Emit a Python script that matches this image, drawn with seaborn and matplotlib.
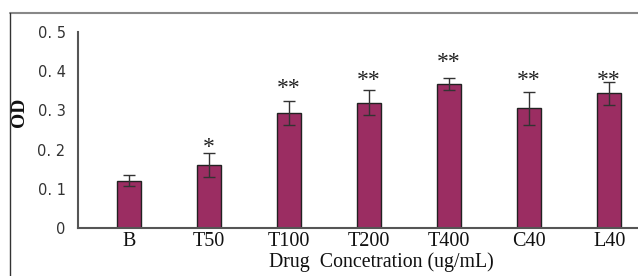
import matplotlib
matplotlib.use("Agg")
import matplotlib.pyplot as plt
from matplotlib.lines import Line2D
import seaborn as sns
import pandas as pd

categories = ["B", "T50", "T100", "T200", "T400", "C40", "L40"]
od_values = [0.120, 0.161, 0.293, 0.320, 0.368, 0.305, 0.344]
od_errors = [0.014, 0.030, 0.031, 0.033, 0.015, 0.041, 0.029]
star_labels = ["", "*", "**", "**", "**", "**", "**"]
star_y = [0.0, 0.219, 0.370, 0.390, 0.436, 0.390, 0.390]
ytick_values = [0, 0.1, 0.2, 0.3, 0.4, 0.5]
ytick_labels = ["0", "0. 1", "0. 2", "0. 3", "0. 4", "0. 5"]

df = pd.DataFrame({"group": categories, "od": od_values})

sns.set_style("white")
plt.rcParams["font.family"] = ["Liberation Serif", "DejaVu Serif"]

fig = plt.figure(figsize=(6.38, 2.76), dpi=100)
ax = fig.add_axes([78 / 638, 48 / 276, 560 / 638, 196 / 276])

bar_color = "#9B2D62"
sns.barplot(data=df, x="group", y="od", order=categories, color=bar_color,
            width=0.3, edgecolor="#222222", linewidth=1.0, errorbar=None,
            saturation=1, ax=ax)
ax.errorbar(range(len(categories)), od_values, yerr=od_errors, fmt="none",
            ecolor="#333333", elinewidth=1.0, capsize=4.3, capthick=1.0)

for i, (lab, yy) in enumerate(zip(star_labels, star_y)):
    if lab:
        ax.text(i, yy - 0.014, lab, ha="center", va="center", fontsize=17,
                color="#222222", family=["Liberation Serif"])

ax.set_xlim(-0.635, 6.34)
ax.set_ylim(0, 0.5)
ax.set_yticks(ytick_values)
ax.set_yticklabels(ytick_labels, family=["DejaVu Sans"], fontsize=10.5,
                   color="#333333")
ax.tick_params(axis="y", direction="in", length=4, width=1.2,
               color="#444444", pad=9)
ax.tick_params(axis="x", which="major", length=0, pad=3, labelsize=14.5,
               labelcolor="#111111")
ax.set_xticks([i + 0.36 for i in range(len(categories))], minor=True)
ax.tick_params(axis="x", which="minor", direction="in", length=5,
               width=1.2, color="#444444")

for s in ["top", "right"]:
    ax.spines[s].set_visible(False)
for s in ["left", "bottom"]:
    ax.spines[s].set_color("#555555")
    ax.spines[s].set_linewidth(1.5)

ax.set_xlabel("")
ax.set_ylabel("OD", fontsize=14, fontweight="bold", color="#111111")
ax.yaxis.set_label_coords(-50 / 560, 0.59)
fig.text(381 / 638, 1 - 262 / 276, "Drug  Concetration (ug/mL)",
         ha="center", va="center", fontsize=14.3, color="#111111")

# outer frame
fig.add_artist(Line2D([9.5 / 638, 1.0], [1 - 13 / 276, 1 - 13 / 276],
                      transform=fig.transFigure, color="#888888", lw=1.5))
fig.add_artist(Line2D([9.5 / 638, 9.5 / 638], [0, 1 - 13 / 276],
                      transform=fig.transFigure, color="#333333", lw=1.0))

fig.savefig("out.png", dpi=100)
